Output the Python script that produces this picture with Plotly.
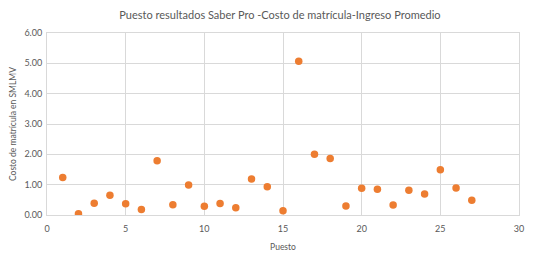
import plotly.graph_objects as go

puesto = list(range(1, 28))
costo = [1.24, 0.04, 0.39, 0.65, 0.37, 0.18, 1.79, 0.34, 0.99, 0.29, 0.38, 0.24,
         1.19, 0.93, 0.14, 5.07, 2.00, 1.86, 0.30, 0.88, 0.85, 0.33, 0.82, 0.69,
         1.49, 0.89, 0.49]

title = "Puesto resultados Saber Pro -Costo de matrícula-Ingreso Promedio"
x_title = "Puesto"
y_title = "Costo de matrícula en SMLMV"

fig = go.Figure(go.Scatter(
    x=puesto, y=costo, mode="markers",
    marker=dict(color="#ED7D31", size=7.5, line=dict(width=0)),
))

font_family = "Lato, Open Sans, sans-serif"
# page body has an 8px default margin, so the figure is sized for 528x253
fig.update_layout(
    width=528, height=253,
    margin=dict(l=39, r=17, t=25, b=46),
    paper_bgcolor="white", plot_bgcolor="white",
    showlegend=False,
    title=dict(text=title, x=0.515, xanchor="center", y=0.97, yanchor="middle",
               font=dict(family=font_family, size=11, color="#595959")),
    font=dict(family=font_family, color="#595959"),
)
fig.update_xaxes(
    range=[0, 30], dtick=5, showgrid=True, gridcolor="#D9D9D9", gridwidth=1,
    zeroline=False, showline=True, linecolor="#D9D9D9", mirror=True,
    tickfont=dict(size=9, color="#595959"), ticks="", automargin=False,
    ticklabelstandoff=5,
    title=dict(text=x_title, font=dict(size=8.5, color="#595959"), standoff=11),
)
fig.update_yaxes(
    range=[0, 6], dtick=1, tickformat=".2f", showgrid=True, gridcolor="#D9D9D9",
    gridwidth=1, zeroline=False, showline=True, linecolor="#D9D9D9", mirror=True,
    tickfont=dict(size=9, color="#595959"), ticks="", automargin=False,
    ticklabelstandoff=2,
    title=dict(text=y_title, font=dict(size=8.5, color="#595959"), standoff=6),
)

fig.write_html("out.html")
